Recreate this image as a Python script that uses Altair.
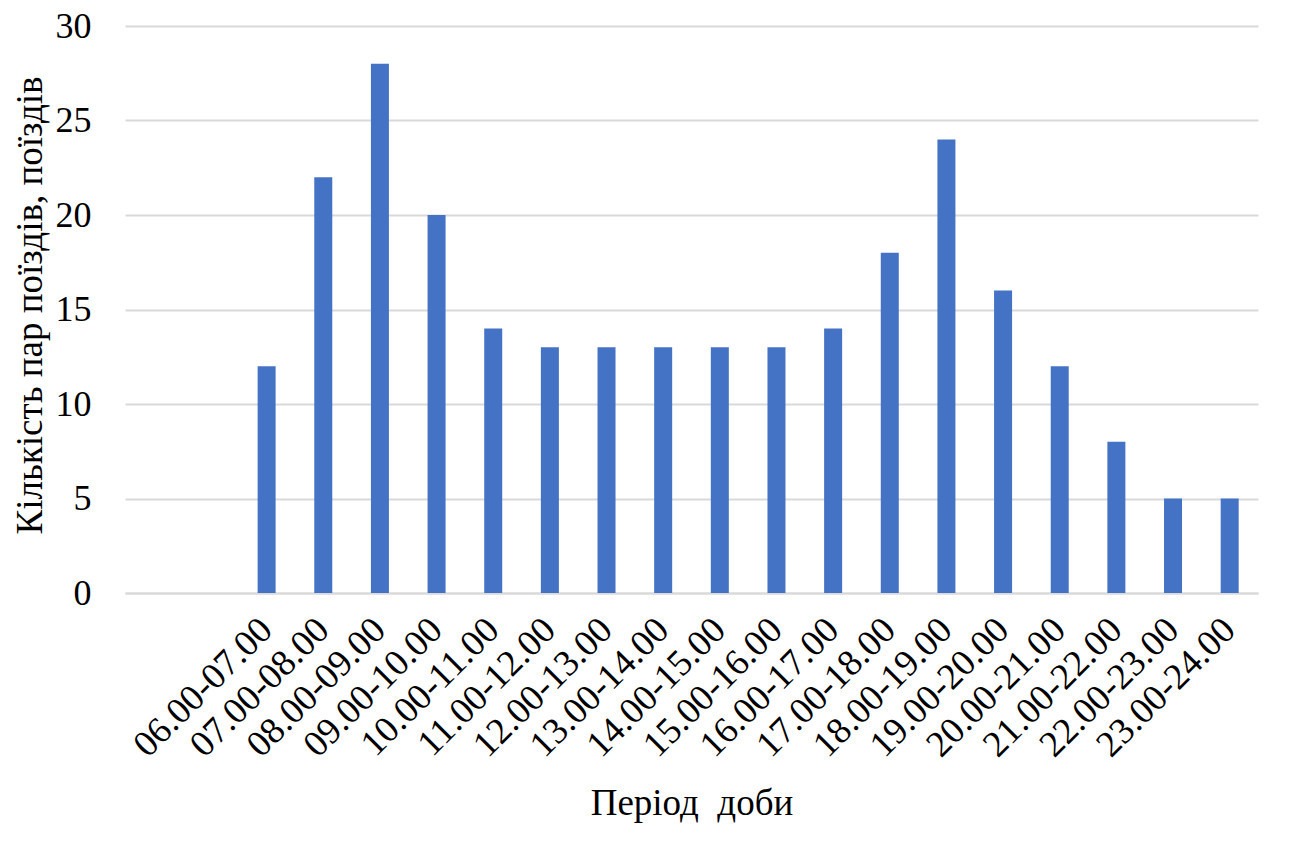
import altair as alt
import pandas as pd

periods = ["06.00-07.00", "07.00-08.00", "08.00-09.00", "09.00-10.00", "10.00-11.00",
           "11.00-12.00", "12.00-13.00", "13.00-14.00", "14.00-15.00", "15.00-16.00",
           "16.00-17.00", "17.00-18.00", "18.00-19.00", "19.00-20.00", "20.00-21.00",
           "21.00-22.00", "22.00-23.00", "23.00-24.00"]
counts = [12, 22, 28, 20, 14, 13, 13, 13, 13, 13, 14, 18, 24, 16, 12, 8, 5, 5]
empty_slots = [" ", "  "]

df = pd.DataFrame({"period": periods, "count": counts})
domain = empty_slots + periods

FONT = "Liberation Serif"

chart = alt.Chart(df).mark_bar(size=18, color="#4472C4").encode(
    x=alt.X("period:N", sort=domain,
            scale=alt.Scale(domain=domain, paddingInner=0.6, paddingOuter=0.3),
            axis=alt.Axis(title="Період\u00a0\u00a0доби", labelAngle=-45, labelAlign="right",
                          labelBaseline="middle", labelPadding=31, labelFontSize=37,
                          labelFont=FONT, labelColor="black", ticks=False,
                          domain=True, domainColor="#D9D9D9", domainWidth=2,
                          titleFont=FONT, titleFontSize=37, titleFontWeight="normal",
                          titleColor="black", titleBaseline="alphabetic", titleY=221,
                          labelOverlap=False)),
    y=alt.Y("count:Q", scale=alt.Scale(domain=[0, 30]),
            axis=alt.Axis(title="Кількість пар поїздів, поїздів", values=[0, 5, 10, 15, 20, 25, 30],
                          grid=True, gridColor="#D9D9D9", gridWidth=2, domain=False, ticks=False,
                          labelFont=FONT, labelFontSize=36, labelColor="black", labelPadding=34,
                          titleFont=FONT, titleFontSize=37, titleFontWeight="normal",
                          titleColor="black", titleBaseline="alphabetic", titleX=-84, titleY=279)),
).properties(
    width=1133, height=567,
    autosize=alt.AutoSizeParams(type="none"),
    padding={"left": 117, "top": 18, "right": 30, "bottom": 250},
).configure_view(stroke=None)

chart.save("out.html", embed_options={"renderer": "svg", "actions": False})
